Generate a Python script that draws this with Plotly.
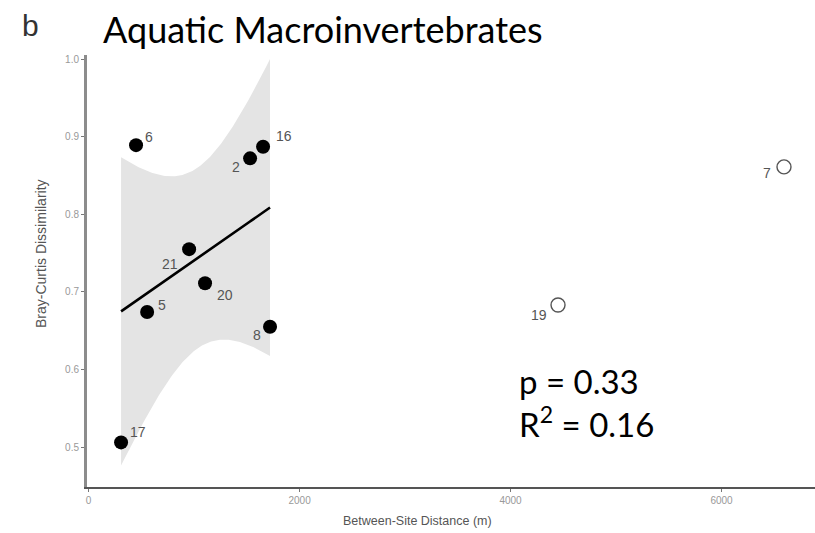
import numpy as np
import plotly.graph_objects as go

# ---- data ----
site_labels = ["6", "2", "16", "21", "20", "5", "8", "17"]
distance_m = [450, 1531, 1654, 953, 1104, 555, 1720, 308]
dissim = [0.889, 0.872, 0.887, 0.755, 0.711, 0.674, 0.655, 0.506]

out_labels = ["19", "7"]
out_distance_m = [4450, 6592]
out_dissim = [0.683, 0.861]

x_ticks = [0, 2000, 4000, 6000]
y_ticks = [0.5, 0.6, 0.7, 0.8, 0.9, 1.0]

# label offsets in pixels (style)
label_offsets = {
    "6": (13, 8), "2": (-14, -9), "16": (21, 11), "21": (-19, -15),
    "20": (20, -12), "5": (15, 7), "8": (-13, -8), "17": (17, 10),
    "19": (-19, -10), "7": (-17, -6),
}

# ---- linear fit with 95% CI (like geom_smooth(method="lm")) ----
x = np.array(distance_m, float)
y = np.array(dissim, float)
n = len(x)
slope, intercept = np.polyfit(x, y, 1)
xs = np.linspace(x.min(), x.max(), 120)
yhat = intercept + slope * xs
resid = y - (intercept + slope * x)
s = np.sqrt(np.sum(resid ** 2) / (n - 2))
sxx = np.sum((x - x.mean()) ** 2)
t975 = 2.446912  # t quantile, df = 6
half = t975 * s * np.sqrt(1 / n + (xs - x.mean()) ** 2 / sxx)

W, H = 815, 533
L, R, T, B = 87, 0, 55, 46
pw, ph = W - L - R, H - T - B


def px(xp):
    return (xp - L) / pw


def py(yp):
    return (H - B - yp) / ph


fig = go.Figure()
fig.add_trace(go.Scatter(
    x=np.concatenate([xs, xs[::-1]]),
    y=np.concatenate([yhat + half, (yhat - half)[::-1]]),
    fill="toself", fillcolor="#e4e4e4", line=dict(width=0),
    hoverinfo="skip", showlegend=False))
fig.add_trace(go.Scatter(x=xs, y=yhat, mode="lines",
                         line=dict(color="black", width=2.6), showlegend=False))
fig.add_trace(go.Scatter(x=distance_m, y=dissim, mode="markers",
                         marker=dict(color="black", size=14), showlegend=False))
fig.add_trace(go.Scatter(x=out_distance_m, y=out_dissim, mode="markers",
                         marker=dict(color="white", size=14,
                                     line=dict(color="#555555", width=1.4)),
                         showlegend=False))

for lab, xv, yv in list(zip(site_labels, distance_m, dissim)) + list(zip(out_labels, out_distance_m, out_dissim)):
    dx, dy = label_offsets[lab]
    fig.add_annotation(x=xv, y=yv, text=lab, showarrow=False, xshift=dx, yshift=dy,
                       font=dict(family="Liberation Sans, Arial", size=14, color="#555555"))

# stats text
fig.add_annotation(x=px(517), y=py(381), xref="paper", yref="paper", text="p = 0.33", showarrow=False,
                   xanchor="left", yanchor="middle",
                   font=dict(family="Lato, Open Sans", size=33, color="black"))
fig.add_annotation(x=px(517), y=py(422), xref="paper", yref="paper", text="R<sup>2</sup> = 0.16",
                   showarrow=False, xanchor="left", yanchor="middle",
                   font=dict(family="Lato, Open Sans", size=33, color="black"))

# titles
fig.add_annotation(x=px(30), y=py(25), xref="paper", yref="paper", text="b", showarrow=False,
                   xanchor="center", yanchor="middle",
                   font=dict(family="Liberation Sans, Arial", size=30, color="#333333"))
fig.add_annotation(x=px(101), y=py(29), xref="paper", yref="paper", text="Aquatic Macroinvertebrates",
                   showarrow=False, xanchor="left", yanchor="middle",
                   font=dict(family="Lato, Open Sans", size=36, color="black"))

# axis titles
fig.add_annotation(x=px(417), y=py(521), xref="paper", yref="paper", text="Between-Site Distance (m)",
                   showarrow=False, xanchor="center", yanchor="middle",
                   font=dict(family="Liberation Sans, Arial", size=12.5, color="#555555"))
fig.add_annotation(x=px(41), y=py(254), xref="paper", yref="paper", text="Bray-Curtis Dissimilarity",
                   showarrow=False, xanchor="center", yanchor="middle", textangle=-90,
                   font=dict(family="Liberation Sans, Arial", size=14, color="#555555"))

fig.update_layout(
    width=W, height=H, margin=dict(l=L, r=R, t=T, b=B),
    plot_bgcolor="white", paper_bgcolor="white",
    xaxis=dict(range=[-15, 6886], tickvals=x_ticks, ticktext=[str(v) for v in x_ticks],
               showgrid=False, zeroline=False, showline=True, linecolor="#555555", linewidth=2,
               ticks="outside", ticklen=3, tickcolor="#777777",
               tickfont=dict(family="Liberation Sans, Arial", size=10, color="#999999")),
    yaxis=dict(range=[0.4485, 1.0052], tickvals=y_ticks, tickformat=".1f",
               showgrid=False, zeroline=False, showline=True, linecolor="#8c8c8c", linewidth=3,
               ticks="outside", ticklen=3, tickcolor="#777777",
               tickfont=dict(family="Liberation Sans, Arial", size=10, color="#999999")),
)

fig.write_html("out.html")
